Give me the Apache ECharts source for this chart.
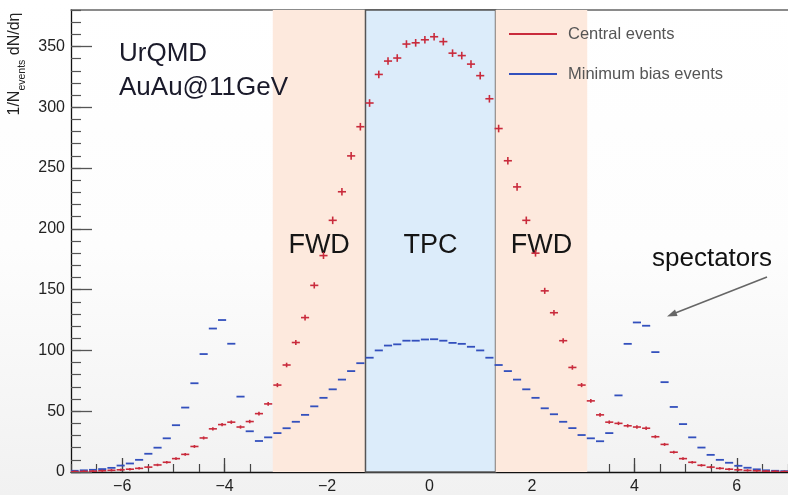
<!DOCTYPE html>
<html><head><meta charset="utf-8">
<script src="https://cdn.jsdelivr.net/npm/echarts@6/dist/echarts.min.js"></script>
<style>html,body{margin:0;padding:0;background:#fff}#c{width:788px;height:495px}</style>
</head><body><div id="c"></div>
<script>
// bin centres (eta)
const ETA = [-6.93,-6.75,-6.57,-6.39,-6.21,-6.03,-5.85,-5.67,-5.49,-5.31,-5.13,-4.95,-4.77,-4.59,-4.41,-4.23,-4.05,-3.87,-3.69,-3.51,-3.33,-3.15,-2.97,-2.79,-2.61,-2.43,-2.25,-2.07,-1.89,-1.71,-1.53,-1.35,-1.17,-0.99,-0.81,-0.63,-0.45,-0.27,-0.09,
  0.09,0.27,0.45,0.63,0.81,0.99,1.17,1.35,1.53,1.71,1.89,2.07,2.25,2.43,2.61,2.79,2.97,3.15,3.33,3.51,3.69,3.87,4.05,4.23,4.41,4.59,4.77,4.95,5.13,5.31,5.49,5.67,5.85,6.03,6.21,6.39,6.57,6.75,6.93];
const CENTRAL = [0.3,0.5,0.7,1.0,1.4,1.8,2.3,3.0,4.0,5.8,8.0,11,14.5,21,28,35.5,39,41,37,41.5,48,56,71.5,88,106.5,127,153.5,178,207,230.5,260,284,303.5,327,338,340.5,352,353,355.5,
  358,354,344.5,342.5,335.5,326,307,282.5,256,234.5,207,180,149,131,108,86,71.5,58.5,47,41,40,38,37,36,29,22.7,16.3,11,8,5.5,4.0,3.0,2.3,1.8,1.3,1.0,0.7,0.5,0.3];
const MINBIAS = [1.0,1.4,1.8,2.4,3.4,5.3,7,10,15,20,27.7,38.5,53,73,97,118,125,105.5,62,33.5,25.5,28.5,32,36,41.3,47,54,61,68,76,83,89.5,94,100,104,105,108,108,109,
  109.2,108,106.2,105.4,103,100,94,88,83,76,68,61,52.4,47.5,41.3,36.1,30.4,27.7,25.3,32,63,105.4,123,120.3,98.6,73.9,53.5,39.4,28.5,20.1,14.1,10,7.6,5.1,3.5,2.2,1.4,1.0,0.7];
const BIN_WIDTH = 0.18;
const X_MAJOR = [-6,-4,-2,0,2,4,6];
const Y_MAJOR = [0,50,100,150,200,250,300,350];
const REGIONS = [
  {name:'FWD', from:-3.06, to:-1.25},
  {name:'TPC', from:-1.25, to:1.29},
  {name:'FWD', from:1.29, to:3.08}
];

const FONT = '"Liberation Sans", Arial, sans-serif';
const RED = '#c92b3c';
const BLUE = '#3350bd';

function histItem(color, crossH, lw) {
  return function (params, api) {
    const v = api.value(1);
    const p = api.coord([api.value(0), v]);
    const w = api.size([BIN_WIDTH, 0])[0] * 0.88;
    const kids = [{type:'line', shape:{x1:p[0]-w/2, y1:p[1], x2:p[0]+w/2, y2:p[1]}, style:{stroke:color, lineWidth:lw}}];
    if (crossH) {
      const h = Math.min(crossH, 1.2 + v / 80);
      kids.push({type:'line', shape:{x1:p[0], y1:p[1]-h, x2:p[0], y2:p[1]+h}, style:{stroke:color, lineWidth:lw}});
    }
    return {type:'group', children:kids};
  };
}

const chart = echarts.init(document.getElementById('c'), null, {renderer:'canvas'});
chart.setOption({
  animation: false,
  backgroundColor: {type:'linear', x:0, y:0, x2:0, y2:1, colorStops:[{offset:0, color:'#ffffff'},{offset:0.5, color:'#fdfdfd'},{offset:1, color:'#f1f1f1'}]},
  grid: {left:71, right:0, top:10, bottom:20, show:false},
  xAxis: [
    {type:'value', min:-7, max:7, position:'bottom',
     axisLine:{show:true, onZero:false, lineStyle:{color:'#111', width:1.3}}, splitLine:{show:false},
     axisTick:{show:true, inside:true, length:14, customValues:X_MAJOR, lineStyle:{color:'#444', width:1.3}},
     axisLabel:{customValues:X_MAJOR, formatter: v => String(v).replace('-', '\u2212'), fontSize:16, color:'#222', margin:7, fontFamily:FONT}},
    {type:'value', min:-7, max:7, interval:0.5, position:'bottom',
     axisLine:{show:false, onZero:false}, splitLine:{show:false},
     axisTick:{show:true, inside:true, length:8, lineStyle:{color:'#444', width:1.2}}, axisLabel:{show:false}},
    {type:'value', min:-7, max:7, position:'top',
     axisLine:{show:true, onZero:false, lineStyle:{color:'#666', width:1.5}}, axisTick:{show:false}, axisLabel:{show:false}, splitLine:{show:false}}
  ],
  yAxis: [
    {type:'value', min:0, max:380, position:'left',
     axisLine:{show:true, onZero:false, lineStyle:{color:'#111', width:1.3}}, splitLine:{show:false},
     axisTick:{show:true, inside:true, length:21, customValues:Y_MAJOR, lineStyle:{color:'#555', width:1.3}},
     axisLabel:{customValues:Y_MAJOR, fontSize:16, color:'#222', margin:6, fontFamily:FONT}},
    {type:'value', min:0, max:380, interval:10, position:'left',
     axisLine:{show:false, onZero:false}, splitLine:{show:false},
     axisTick:{show:true, inside:true, length:10, lineStyle:{color:'#555', width:1.2}}, axisLabel:{show:false}}
  ],
  legend: {show:true, orient:'vertical', left:509, top:24, padding:0, itemGap:20, itemWidth:48, itemHeight:2, icon:'rect',
    selectedMode:false, data:['Central events','Minimum bias events'],
    textStyle:{fontSize:16.5, color:'#555', fontFamily:FONT, lineHeight:20, padding:[0,0,0,6]}},
  series: [
    {type:'line', name:'bands', data:[[-7,0]], silent:true, z:1, showSymbol:false, symbol:'none', lineStyle:{opacity:0},
     xAxisIndex:0, yAxisIndex:0,
     markArea:{silent:true, data: REGIONS.map(r => [
       {xAxis:r.from, name:r.name,
        itemStyle: r.name === 'TPC' ? {color:'#dcecfa', borderColor:'#555', borderWidth:1.5} : {color:'#fde9dd', borderWidth:0},
        label:{show:true, position:'inside', formatter:'{b}', fontSize:27, color:'#151515', fontFamily:FONT, offset:[0,5]}},
       {xAxis:r.to}
     ])}},
    {type:'custom', name:'Minimum bias events', xAxisIndex:0, yAxisIndex:0, z:3, clip:true,
     data: ETA.map((x,i) => [x, MINBIAS[i]]), encode:{x:0, y:1},
     renderItem: histItem(BLUE, 0, 1.8), itemStyle:{color:BLUE}},
    {type:'custom', name:'Central events', xAxisIndex:0, yAxisIndex:0, z:4, clip:true,
     data: ETA.map((x,i) => [x, CENTRAL[i]]), encode:{x:0, y:1},
     renderItem: histItem(RED, 3.8, 1.6), itemStyle:{color:RED}}
  ],
  graphic: [
    {type:'text', x:119, y:54, z:10, style:{text:'UrQMD', font:'26px ' + FONT, fill:'#1a1a2a', verticalAlign:'middle', align:'left'}},
    {type:'text', x:119, y:87.5, z:10, style:{text:'AuAu@11GeV', font:'26px ' + FONT, fill:'#1a1a2a', verticalAlign:'middle', align:'left'}},
    {type:'text', x:652, y:259, z:10, style:{text:'spectators', font:'26px ' + FONT, fill:'#111', verticalAlign:'middle', align:'left'}},
    {type:'polyline', z:10, shape:{points:[[767,277],[674,313.5]]}, style:{stroke:'#666', lineWidth:1.6}},
    {type:'polygon', z:10, shape:{points:[[667,316.5],[677.6,316.1],[675.0,309.6]]}, style:{fill:'#666'}},
    {type:'text', x:15, y:64, rotation:Math.PI/2, z:10,
     style:{text:'1/N{s|events} dN/dη', align:'center', verticalAlign:'middle', font:'16px ' + FONT, fill:'#222',
       rich:{s:{fontSize:10.5, fontFamily:FONT, fill:'#222', padding:[14,0,0,0], verticalAlign:'middle'}}}}
  ]
});
</script></body></html>
